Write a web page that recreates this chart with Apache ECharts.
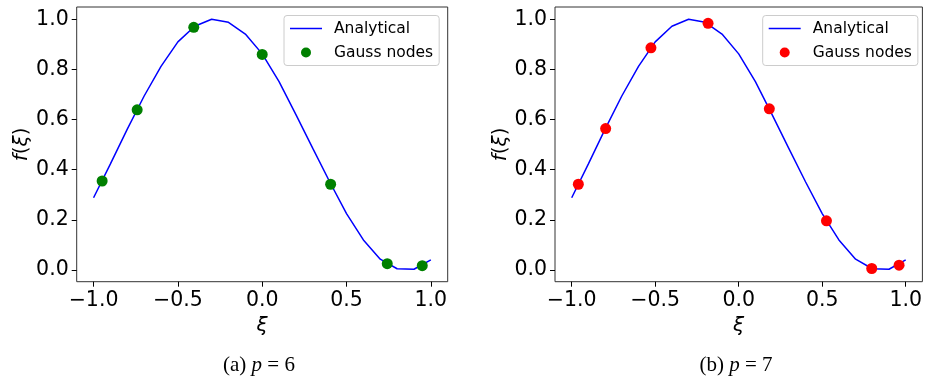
<!DOCTYPE html>
<html>
<head>
<meta charset="utf-8">
<script src="https://cdn.jsdelivr.net/npm/echarts@6/dist/echarts.min.js"></script>
<style>
html,body{margin:0;padding:0;background:#fff;}
#chart{width:925px;height:378px;}
</style>
</head>
<body>
<div id="chart"></div>
<script>
// Analytical curve (sampled every 0.1)
const curveX = [-1.0,-0.9,-0.8,-0.7,-0.6,-0.5,-0.4,-0.3,-0.2,-0.1,0.0,0.1,0.2,0.3,0.4,0.5,0.6,0.7,0.8,0.9,1.0];
const curveY = [0.288,0.423,0.562,0.694,0.812,0.910,0.972,1.000,0.988,0.941,0.862,0.751,0.620,0.485,0.352,0.225,0.120,0.043,0.005,0.003,0.040];
// Gauss nodes, p = 6
const nodesP6X = [-0.9491,-0.7415,-0.4058,0.0,0.4058,0.7415,0.9491];
const nodesP6Y = [0.355,0.639,0.968,0.860,0.342,0.025,0.017];
// Gauss nodes, p = 7
const nodesP7X = [-0.9603,-0.7967,-0.5255,-0.1834,0.1834,0.5255,0.7967,0.9603];
const nodesP7Y = [0.342,0.564,0.886,0.984,0.643,0.196,0.006,0.019];
// Tick labels
const xTicks = [-1.0,-0.5,0.0,0.5,1.0];
const yTicks = [0.0,0.2,0.4,0.6,0.8,1.0];
const captions = ['(a)', '(b)'];
const pValues = [6, 7];

const zip = (a, b) => a.map((v, i) => [v, b[i]]);
const fmt = v => v.toFixed(1).replace('-', '\u2212');
const FONT = 'DejaVu Sans';
const TICK_FS = 20.5;

const grids = [
  {left: 76.7, top: 7, width: 371, height: 274.7},
  {left: 555, top: 7, width: 371, height: 274.7}
];

function xAxisFor(i) {
  return {
    type: 'value', gridIndex: i, min: -1.1, max: 1.1,
    splitLine: {show: false},
    axisLine: {show: false, onZero: false},
    axisTick: {show: true, inside: false, length: 5, customValues: xTicks, lineStyle: {color: '#000', width: 1}},
    axisLabel: {customValues: xTicks, formatter: fmt, margin: 8, color: '#000', fontFamily: FONT, fontSize: TICK_FS},
    name: '{i|ξ}', nameLocation: 'middle', nameGap: 31,
    nameTextStyle: {color: '#000', fontFamily: FONT, fontSize: 20, rich: {i: {fontStyle: 'italic', fontFamily: FONT, fontSize: 20, color: '#000'}}}
  };
}
function yAxisFor(i) {
  return {
    type: 'value', gridIndex: i, min: -0.0467, max: 1.049,
    splitLine: {show: false},
    axisLine: {show: false, onZero: false},
    axisTick: {show: true, inside: false, length: 5, customValues: yTicks, lineStyle: {color: '#000', width: 1}},
    axisLabel: {customValues: yTicks, formatter: fmt, margin: 8, color: '#000', fontFamily: FONT, fontSize: TICK_FS},
    name: '{i|f}({i|ξ})', nameLocation: 'middle', nameGap: 41, nameRotate: 90,
    nameTextStyle: {color: '#000', fontFamily: FONT, fontSize: 20, rich: {i: {fontStyle: 'italic', fontFamily: FONT, fontSize: 20, color: '#000'}}}
  };
}

const lineIcon = 'path://M0,0 L32,0 L32,1.5 L0,1.5 Z';
function legendFor(i, left) {
  const suf = i === 0 ? ' ' : '  ';
  return {
    show: true, orient: 'vertical', left: left, top: 15.5,
    padding: [5, 6, 5, 6], itemGap: 8, itemWidth: 32, itemHeight: 10,
    backgroundColor: 'rgba(255,255,255,0.8)', borderColor: '#cccccc', borderWidth: 1, borderRadius: 3,
    data: [{name: 'Analytical' + suf, icon: lineIcon}, {name: 'Gauss nodes' + suf, icon: 'circle'}],
    formatter: n => n.trim(),
    textStyle: {color: '#000', fontFamily: FONT, fontSize: 15.5, padding: [0, 0, 0, 7]},
    selectedMode: false
  };
}

const nodeColors = ['#008000', '#ff0000'];
const nodeData = [zip(nodesP6X, nodesP6Y), zip(nodesP7X, nodesP7Y)];
const series = [];
[0, 1].forEach(i => {
  const suf = i === 0 ? ' ' : '  ';
  series.push({
    name: 'Analytical' + suf, type: 'line', xAxisIndex: i, yAxisIndex: i,
    data: zip(curveX, curveY), symbol: 'none', smooth: false,
    lineStyle: {color: '#0000ff', width: 1.5}, itemStyle: {color: '#0000ff'}, z: 2
  });
  series.push({
    name: 'Gauss nodes' + suf, type: 'scatter', xAxisIndex: i, yAxisIndex: i,
    data: nodeData[i], symbol: 'circle', symbolSize: 11,
    itemStyle: {color: nodeColors[i], opacity: 1}, z: 3
  });
});

const captionTitles = [0, 1].map(i => ({
  text: captions[i] + ' {i|p} = ' + pValues[i],
  left: (i === 0 ? 254 : 731), top: 350, textAlign: 'center',
  textStyle: {fontFamily: 'Liberation Serif', fontSize: 21, fontWeight: 'normal', color: '#000',
    rich: {i: {fontFamily: 'Liberation Serif', fontStyle: 'italic', fontSize: 21, color: '#000'}}}
}));

const chart = echarts.init(document.getElementById('chart'), null, {renderer: 'canvas'});
chart.setOption({
  animation: false,
  backgroundColor: '#fff',
  title: captionTitles,
  grid: grids.map(g => Object.assign({show: true, borderColor: '#333', borderWidth: 1, backgroundColor: 'transparent', containLabel: false}, g)),
  xAxis: [xAxisFor(0), xAxisFor(1)],
  yAxis: [yAxisFor(0), yAxisFor(1)],
  legend: [legendFor(0, 284), legendFor(1, 762.7)],
  series: series
});
</script>
</body>
</html>
